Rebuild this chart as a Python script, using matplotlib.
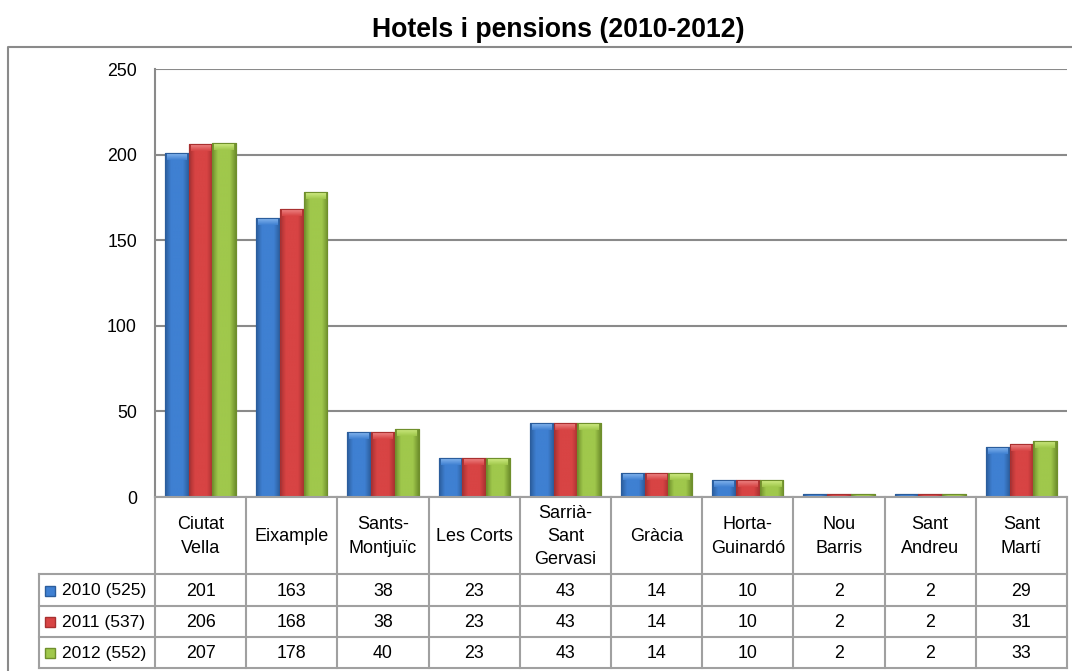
import numpy as np
import matplotlib
matplotlib.use("Agg")
import matplotlib.pyplot as plt
from matplotlib.colors import LinearSegmentedColormap

plt.rcParams['font.family'] = ['Liberation Sans', 'DejaVu Sans']

# ---------------- data ----------------
title = "Hotels i pensions (2010-2012)"
categories = ["Ciutat\nVella", "Eixample", "Sants-\nMontjuïc", "Les Corts",
              "Sarrià-\nSant\nGervasi", "Gràcia", "Horta-\nGuinardó",
              "Nou\nBarris", "Sant\nAndreu", "Sant\nMartí"]
series_names = ["2010 (525)", "2011 (537)", "2012 (552)"]
v2010 = [201, 163, 38, 23, 43, 14, 10, 2, 2, 29]
v2011 = [206, 168, 38, 23, 43, 14, 10, 2, 2, 31]
v2012 = [207, 178, 40, 23, 43, 14, 10, 2, 2, 33]
yticks = [0, 50, 100, 150, 200, 250]

series = [v2010, v2011, v2012]
# (dark edge, mid, light highlight)
palettes = [("#2b5d9c", "#3f80d2", "#8cbcf2"),
            ("#a83030", "#d84444", "#f08c8c"),
            ("#6f8f2c", "#a0c84c", "#d6f08a")]

W, H = 1072, 671
fig = plt.figure(figsize=(W / 100, H / 100), dpi=100)

# pixel layout
L, R = 155, 1067
T0, B0 = 69, 497
colw = (R - L) / len(categories)

ax = fig.add_axes([L / W, 1 - B0 / H, (R - L) / W, (B0 - T0) / H])
n = len(categories)
x = np.arange(n)
bw = 0.26
ax.set_xlim(-0.5, n - 0.5)
ax.set_ylim(0, 250)
ax.set_yticks(yticks)
ax.set_yticklabels([str(t) for t in yticks], fontsize=12.8)
ax.tick_params(axis='y', length=0, pad=13)
ax.set_xticks([])
for s in ['top', 'right', 'bottom']:
    ax.spines[s].set_visible(False)
ax.spines['left'].set_color('#8a8a8a')
ax.spines['left'].set_linewidth(1.5)
ax.yaxis.grid(True, color='#8a8a8a', linewidth=1.5)
ax.set_axisbelow(True)

px_per_unit = (B0 - T0) / 250.0
for k, (vals, pal) in enumerate(zip(series, palettes)):
    dark, mid, light = pal
    cmap_h = LinearSegmentedColormap.from_list("h", [dark, mid, mid, mid, dark])
    cmap_cap = LinearSegmentedColormap.from_list("c", [light, mid])
    bars = ax.bar(x + (k - 1) * bw, vals, width=bw, color=mid,
                  edgecolor=dark, linewidth=0.8, zorder=3)
    grad = np.linspace(0, 1, 64).reshape(1, -1)
    for b in bars:
        x0, w_, h_ = b.get_x(), b.get_width(), b.get_height()
        im = ax.imshow(grad, cmap=cmap_h, aspect='auto',
                       extent=(x0, x0 + w_, 0, h_), zorder=3.5,
                       interpolation='bicubic')
        im.set_clip_path(b)
        cap = min(7 / px_per_unit, h_ * 0.5)
        capg = np.linspace(0, 1, 32).reshape(-1, 1)
        im2 = ax.imshow(capg, cmap=cmap_cap, aspect='auto',
                        extent=(x0 + w_ * 0.08, x0 + w_ * 0.92, h_ - cap, h_),
                        zorder=3.6, interpolation='bicubic', alpha=0.95)
        im2.set_clip_path(b)
        ax.add_patch(plt.Rectangle((x0, 0), w_, h_, fill=False,
                                   edgecolor=dark, linewidth=0.8, zorder=3.7))

# ---------------- overlay for table / border / title ----------------
ov = fig.add_axes([0, 0, 1, 1], zorder=5)
ov.set_xlim(0, W)
ov.set_ylim(H, 0)
ov.axis('off')
ov.patch.set_alpha(0)

gray = '#a0a0a0'
# outer chart border
ov.plot([8, 8, W + 5], [H + 5, 47, 47], color='#8a8a8a', lw=1.5)

ov.text(W / 2 + 22, 30, title, ha='center', va='center',
        fontsize=19.2, fontweight='bold')

row_y = [497, 574, 606, 637, 668]
LL = 39
# horizontal lines
ov.plot([L, R], [row_y[0], row_y[0]], color=gray, lw=1.5)
for yy in row_y[1:]:
    ov.plot([LL, R], [yy, yy], color=gray, lw=1.5)
# vertical lines
for i in range(n + 1):
    xx = L + i * colw
    ov.plot([xx, xx], [row_y[0], row_y[-1]], color=gray, lw=1.5)
ov.plot([LL, LL], [row_y[1], row_y[-1]], color=gray, lw=1.5)

# header labels
for i, c in enumerate(categories):
    ov.text(L + (i + 0.5) * colw, (row_y[0] + row_y[1]) / 2 + 1, c,
            ha='center', va='center', fontsize=13, linespacing=1.5)

# data rows
for r, (vals, name, pal) in enumerate(zip(series, series_names, palettes)):
    yc = (row_y[r + 1] + row_y[r + 2]) / 2 + 1
    for i, v in enumerate(vals):
        ov.text(L + (i + 0.5) * colw, yc, str(v), ha='center', va='center',
                fontsize=12.8)
    ov.add_patch(plt.Rectangle((45, yc - 5.5), 10, 10, facecolor=pal[1],
                               edgecolor=pal[0], lw=1))
    ov.text(62, yc, name, ha='left', va='center', fontsize=12.5)

fig.savefig("out.png", dpi=100)
